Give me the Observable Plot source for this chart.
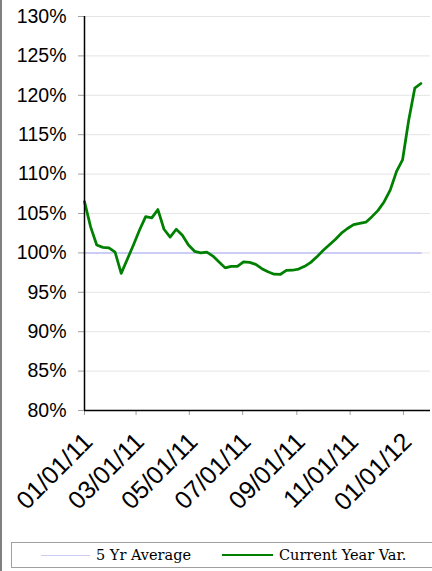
<!DOCTYPE html>
<html>
<head>
<meta charset="utf-8">
<script src="https://cdn.jsdelivr.net/npm/d3@7"></script>
<script src="https://cdn.jsdelivr.net/npm/@observablehq/plot@0.6"></script>
<style>
  html, body { margin: 0; padding: 0; background: #fff; }
  #wrap { position: relative; width: 432px; height: 571px; overflow: hidden; }
  #leftbar { position: absolute; left: 0; top: 0; width: 2px; height: 571px; background: #808080; }
  #chart { position: absolute; left: 0; top: 0; }
  #legend { position: absolute; left: 11px; top: 542px; width: 430px; height: 26px;
            border: 1px solid #a0a0a0; box-sizing: border-box;
            font-family: "DejaVu Serif", serif; font-size: 14.5px; color: #000; }
  .item { position: absolute; top: 0; height: 24px; display: flex; align-items: center; }
  .swatch { display: inline-block; height: 0; margin-right: 6px; }
</style>
</head>
<body>
<div id="wrap">
  <div id="leftbar"></div>
  <div id="chart"></div>
  <div id="legend"></div>
</div>
<script>
// Weekly observation dates
const dates = [
  "2011-01-01","2011-01-08","2011-01-15","2011-01-22","2011-01-29","2011-02-05","2011-02-12","2011-02-19",
  "2011-02-26","2011-03-05","2011-03-12","2011-03-19","2011-03-26","2011-04-02","2011-04-09","2011-04-16",
  "2011-04-23","2011-04-30","2011-05-07","2011-05-14","2011-05-21","2011-05-28","2011-06-04","2011-06-11",
  "2011-06-18","2011-06-25","2011-07-02","2011-07-09","2011-07-16","2011-07-23","2011-07-30","2011-08-06",
  "2011-08-13","2011-08-20","2011-08-27","2011-09-03","2011-09-10","2011-09-17","2011-09-24","2011-10-01",
  "2011-10-08","2011-10-15","2011-10-22","2011-10-29","2011-11-05","2011-11-12","2011-11-19","2011-11-26",
  "2011-12-03","2011-12-10","2011-12-17","2011-12-24","2011-12-31","2012-01-07","2012-01-14","2012-01-21"
];
// Current Year Var. (%)
const currentYear = [
  106.5, 103.3, 101.0, 100.7, 100.65, 100.1, 97.4, 99.2,
  101.0, 102.9, 104.6, 104.45, 105.5, 103.0, 102.0, 103.0,
  102.25, 101.0, 100.2, 100.0, 100.1, 99.6, 98.85, 98.1,
  98.3, 98.3, 98.85, 98.8, 98.55, 98.0, 97.6, 97.3,
  97.26, 97.77, 97.8, 97.95, 98.3, 98.8, 99.5, 100.3,
  101.0, 101.7, 102.5, 103.1, 103.6, 103.75, 103.9, 104.6,
  105.4, 106.5, 108.0, 110.3, 111.8, 116.8, 120.9, 121.5
];
// 5 Yr Average (%)
const fiveYrAvg = dates.map(() => 100);

const yTicks = [80, 85, 90, 95, 100, 105, 110, 115, 120, 125, 130];
const xTickLabels = ["01/01/11","03/01/11","05/01/11","07/01/11","09/01/11","11/01/11","01/01/12"];
const xDomain = ["2011-01-01", "2012-02-01"];

const parse = d3.utcParse("%Y-%m-%d");
const parseTick = d3.utcParse("%m/%d/%y");
const fmtTick = d3.utcFormat("%m/%d/%y");

const cur = dates.map((d, i) => ({date: parse(d), value: currentYear[i]}));
const avg = dates.map((d, i) => ({date: parse(d), value: fiveYrAvg[i]}));
const xTicks = xTickLabels.map(parseTick);

const chart = Plot.plot({
  width: 432,
  height: 540,
  marginLeft: 84,
  marginRight: 2,
  marginTop: 16,
  marginBottom: 130,
  style: {background: "transparent"},
  x: {type: "utc", domain: xDomain.map(parse)},
  y: {domain: [80, 130]},
  marks: [
    Plot.ruleY(yTicks.filter(d => d > 80), {stroke: "#e4e4e4", strokeWidth: 1}),
    Plot.line(avg, {x: "date", y: "value", stroke: "#ccccf6", strokeWidth: 2}),
    Plot.line(cur, {x: "date", y: "value", stroke: "#008000", strokeWidth: 2.75}),
    Plot.axisY({
      ticks: yTicks, tickFormat: d => d + "%", tickSize: 6, tickPadding: 12,
      stroke: "#a0a0a0", fontSize: 19.5, fontFamily: "Liberation Sans, Arial, sans-serif",
      fill: "#000", label: null
    }),
    // tick marks only
    Plot.axisX({
      ticks: xTicks, tickFormat: () => "", tickSize: 5, stroke: "#a0a0a0", label: null
    }),
    // rotated labels
    Plot.axisX({
      ticks: xTicks, tickFormat: fmtTick, tickSize: 0, tickPadding: 27, tickRotate: -45,
      fontSize: 25, fontFamily: "Liberation Sans, Arial, sans-serif",
      fill: "#000", label: null, dx: 4
    }),
    Plot.ruleX([parse(xDomain[0])], {stroke: "#000", strokeWidth: 1.5}),
    Plot.ruleY([80], {stroke: "#000", strokeWidth: 1.5})
  ]
});
document.getElementById("chart").appendChild(chart);

// Legend
const legendItems = [
  {label: "5 Yr Average", color: "#ccccf6", width: 1.5, left: 29, len: 49},
  {label: "Current Year Var.", color: "#008000", width: 2.5, left: 210, len: 51}
];
const leg = document.getElementById("legend");
legendItems.forEach(it => {
  const div = document.createElement("div");
  div.className = "item";
  div.style.left = it.left + "px";
  const sw = document.createElement("span");
  sw.className = "swatch";
  sw.style.width = it.len + "px";
  sw.style.borderTop = it.width + "px solid " + it.color;
  const tx = document.createElement("span");
  tx.textContent = it.label;
  div.appendChild(sw);
  div.appendChild(tx);
  leg.appendChild(div);
});
</script>
</body>
</html>
